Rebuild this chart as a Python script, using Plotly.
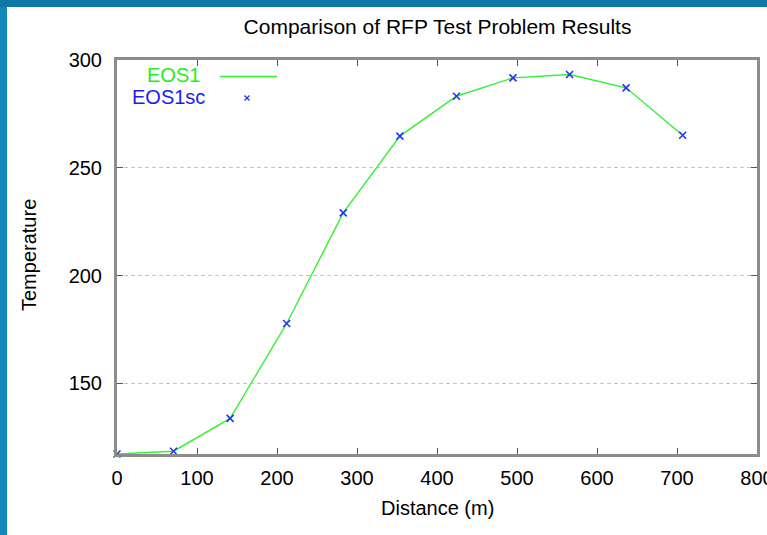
import plotly.graph_objects as go

# ---- data ----
distance = [0, 70.7, 141.4, 212.1, 282.8, 353.6, 424.3, 495.0, 565.7, 636.4, 707.1]
eos1 = [117.3, 118.6, 133.8, 177.8, 229.1, 264.7, 283.2, 291.7, 293.3, 287.1, 265.1]
eos1sc = [117.3, 118.6, 133.8, 177.8, 229.1, 264.7, 283.2, 291.7, 293.3, 287.1, 265.1]
x_ticks = [0, 100, 200, 300, 400, 500, 600, 700, 800]
y_ticks = [150, 200, 250, 300]
series_names = ["EOS1", "EOS1sc"]
title_text = "Comparison of RFP Test Problem Results"
x_title = "Distance (m)"
y_title = "Temperature"

# ---- layout geometry (pixels) ----
FW, FH = 767, 535
L, T, W, H = 117, 60, 640, 394
R = FW - L - W
B = FH - T - H


def px(x):
    return (x - L) / W


def py(y):
    return (T + H - y) / H


FONT = "Liberation Sans, Arial, sans-serif"
GREEN = "#33f033"
BLUE = "#2233ff"

fig = go.Figure()
fig.add_trace(go.Scatter(
    x=distance, y=eos1, mode="lines", name=series_names[0],
    line=dict(color=GREEN, width=1.4), cliponaxis=False, showlegend=False))
fig.add_trace(go.Scatter(
    x=distance, y=eos1sc, mode="markers", name=series_names[1],
    marker=dict(symbol="x-thin", size=7, color=BLUE,
                line=dict(color=BLUE, width=1.6)),
    cliponaxis=False, showlegend=False))

axis_common = dict(
    showline=True, linecolor="#8c8c8c", linewidth=3, mirror="ticks",
    ticks="inside", ticklen=6, tickwidth=1, tickcolor="#555555",
    tickfont=dict(family=FONT, size=20, color="black"),
    zeroline=False, ticklabeloverflow="allow", automargin=False,
)

fig.update_xaxes(range=[0, 800], tickvals=x_ticks, showgrid=False,
                 ticklabelstandoff=4, **axis_common)
fig.update_yaxes(range=[117.3, 300], tickvals=y_ticks, showgrid=True,
                 gridcolor="#c4c4c4", griddash="4px,3px", gridwidth=1,
                 ticklabelstandoff=8, **axis_common)

shapes = [
    # blue frame strips
    dict(type="rect", xref="paper", yref="paper",
         x0=px(-5), x1=px(7), y0=py(FH + 5), y1=py(-5),
         fillcolor="#1386ba", line=dict(width=0), layer="above"),
    dict(type="rect", xref="paper", yref="paper",
         x0=px(-5), x1=px(FW + 5), y0=py(7), y1=py(-5),
         fillcolor="#0f78a6", line=dict(width=0), layer="above"),
    # legend line sample
    dict(type="line", xref="paper", yref="paper",
         x0=px(220), x1=px(277), y0=py(76.5), y1=py(76.5),
         line=dict(color=GREEN, width=1.4)),
    # legend marker sample
    dict(type="line", xref="paper", yref="paper",
         x0=px(244.5), x1=px(249.5), y0=py(95.5), y1=py(100.5),
         line=dict(color=BLUE, width=1.3)),
    dict(type="line", xref="paper", yref="paper",
         x0=px(244.5), x1=px(249.5), y0=py(100.5), y1=py(95.5),
         line=dict(color=BLUE, width=1.3)),
]

annotations = [
    dict(text=series_names[0], xref="paper", yref="paper",
         x=px(202), y=py(75), xanchor="right", yanchor="middle",
         showarrow=False, font=dict(family=FONT, size=20, color="#22ee22")),
    dict(text=series_names[1], xref="paper", yref="paper",
         x=px(207), y=py(97), xanchor="right", yanchor="middle",
         showarrow=False, font=dict(family=FONT, size=20, color="#1a1aff")),
    dict(text=x_title, xref="paper", yref="paper",
         x=px(437), y=py(508), xanchor="center", yanchor="middle",
         showarrow=False, font=dict(family=FONT, size=20, color="black")),
    dict(text=y_title, xref="paper", yref="paper",
         x=px(29), y=py(255), xanchor="center", yanchor="middle",
         textangle=-90,
         showarrow=False, font=dict(family=FONT, size=20, color="black")),
]

fig.update_layout(
    width=FW, height=FH,
    margin=dict(l=L, r=R, t=T, b=B, pad=0, autoexpand=False),
    paper_bgcolor="white", plot_bgcolor="white",
    title=dict(text=title_text, x=437.5 / FW, y=1 - 27 / FH,
               xanchor="center", yanchor="middle", xref="container", yref="container",
               font=dict(family=FONT, size=21, color="black")),
    shapes=shapes,
    annotations=annotations,
    showlegend=False,
)

fig.write_html("out.html")
